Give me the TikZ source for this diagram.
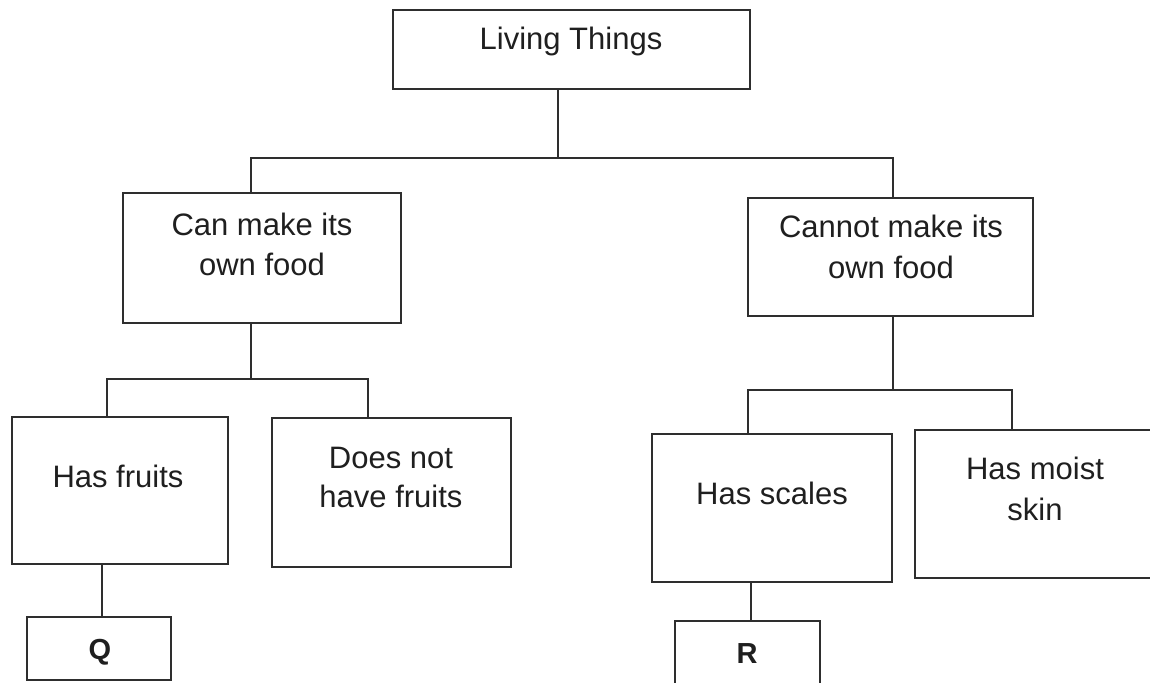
\documentclass[tikz,border=0pt]{standalone}
\usepackage{fontspec}
\setmainfont{Liberation Sans}
\begin{document}
\begin{tikzpicture}[x=1pt,y=-1pt,
  box/.style={draw=black!82, line width=1.4pt, rectangle, inner sep=0pt},
  txt/.style={anchor=base, inner sep=0pt, text=black!88, font=\fontsize{31}{40}\selectfont},
  letter/.style={anchor=base, inner sep=0pt, text=black!88, font=\fontsize{29}{34}\selectfont\bfseries},
  conn/.style={draw=black!82, line width=1.4pt}]
\useasboundingbox (0,0) rectangle (1150,682);
\clip (0,0) rectangle (1150,682);
\fill[white] (0,0) rectangle (1150,682);
% boxes
\node[box, minimum width=357, minimum height=79]  (living)   at (571.5,49.5) {};
\node[box, minimum width=278, minimum height=130] (can)      at (262,258) {};
\node[box, minimum width=285, minimum height=118] (cannot)   at (890.5,257) {};
\node[box, minimum width=216, minimum height=147] (fruits)   at (120,490.5) {};
\node[box, minimum width=239, minimum height=149] (nofruits) at (391.5,492.5) {};
\node[box, minimum width=240, minimum height=148] (scales)   at (772,508) {};
\node[box, minimum width=250, minimum height=148] (moist)    at (1040,504) {};
\node[box, minimum width=144, minimum height=63]  (q)        at (99,648.5) {};
\node[box, minimum width=145, minimum height=74]  (r)        at (747.5,658) {};
% texts
\node[txt] (tliving) at (571,50) {Living Things};
\node[txt] (tcan1) at (262,235) {Can make its};
\node[txt] (tcan2) at (262,275) {own food};
\node[txt] (tcannot1) at (891,237) {Cannot make its};
\node[txt] (tcannot2) at (891,278) {own food};
\node[txt] (tfruits) at (118,487) {Has fruits};
\node[txt] (tnofruits1) at (391,468) {Does not};
\node[txt] (tnofruits2) at (391,507) {have fruits};
\node[txt] (tscales) at (772,504) {Has scales};
\node[txt] (tmoist1) at (1035,479) {Has moist};
\node[txt] (tmoist2) at (1035,520) {skin};
\node[letter] (tq) at (100,659) {Q};
\node[letter] (tr) at (747,663) {R};
% junction coordinates
\coordinate (j0) at (558,158);
\coordinate (ja) at (251,158);
\coordinate (jb) at (893,158);
\coordinate (k0) at (251,379);
\coordinate (ka) at (107,379);
\coordinate (kb) at (368,379);
\coordinate (m0) at (893,390);
\coordinate (ma) at (748,390);
\coordinate (mb) at (1012,390);
\coordinate (qx) at (102,0);
\coordinate (rx) at (751,0);
% connectors
\draw[conn] (living.south -| j0) -- (j0);
\draw[conn] (can.north -| ja) -- (ja) -- (jb) -- (cannot.north -| jb);
\draw[conn] (can.south -| k0) -- (k0);
\draw[conn] (fruits.north -| ka) -- (ka) -- (kb) -- (nofruits.north -| kb);
\draw[conn] (cannot.south -| m0) -- (m0);
\draw[conn] (scales.north -| ma) -- (ma) -- (mb) -- (moist.north -| mb);
\draw[conn] (fruits.south -| qx) -- (q.north -| qx);
\draw[conn] (scales.south -| rx) -- (r.north -| rx);
\end{tikzpicture}
\end{document}
